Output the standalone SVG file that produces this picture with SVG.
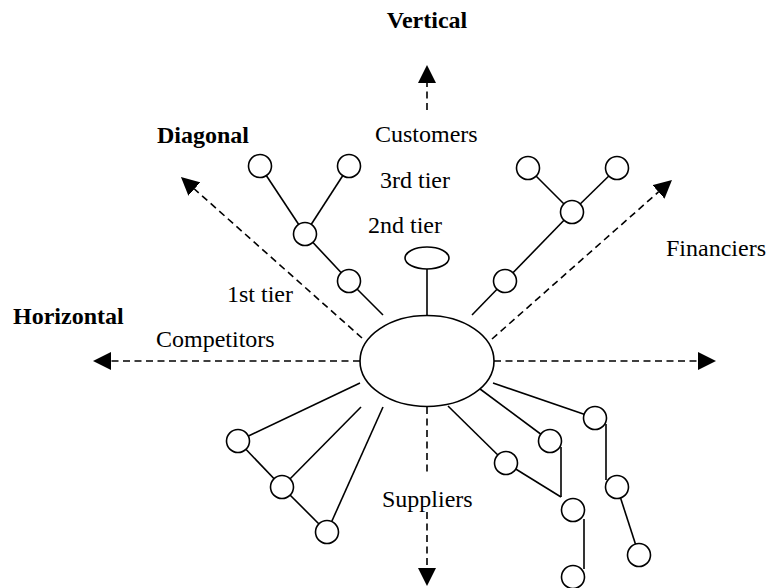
<svg xmlns="http://www.w3.org/2000/svg" width="770" height="588" viewBox="0 0 770 588">
  <style>
    .ln { stroke: #000; stroke-width: 1.6; fill: none; }
    .dash { stroke: #000; stroke-width: 1.6; fill: none; stroke-dasharray: 7 4.5; }
    .node { stroke: #000; stroke-width: 1.6; fill: #fff; }
    .lbl { font-family: "Liberation Serif", "Times New Roman", serif; font-size: 24px; fill: #000; }
    .bold { font-weight: bold; }
  </style>
  <defs>
    <marker id="arrow" markerUnits="userSpaceOnUse" markerWidth="18" markerHeight="18" refX="0" refY="9" orient="auto">
      <path d="M0,0 L18,9 L0,18 z" fill="#000"/>
    </marker>
  </defs>
  <rect width="770" height="588" fill="#fff"/>

  <!-- dashed direction axes -->
  <g id="axes">
    <line class="dash" x1="427" y1="110" x2="427" y2="83" marker-end="url(#arrow)"/>
    <line class="dash" x1="360" y1="361" x2="111" y2="361" marker-end="url(#arrow)"/>
    <line class="dash" x1="494" y1="361" x2="698" y2="361" marker-end="url(#arrow)"/>
    <line class="dash" x1="427" y1="407" x2="427" y2="476"/>
    <line class="dash" x1="427" y1="512" x2="427" y2="568" marker-end="url(#arrow)"/>
    <line class="dash" x1="362" y1="338" x2="194.4" y2="189" marker-end="url(#arrow)"/>
    <line class="dash" x1="492" y1="339" x2="658.5" y2="191.9" marker-end="url(#arrow)"/>
  </g>

  <!-- connectors -->
  <g id="connectors">
    <!-- upper left tree -->
    <line class="ln" x1="383" y1="315" x2="349" y2="281"/>
    <line class="ln" x1="349" y1="281" x2="305" y2="234"/>
    <line class="ln" x1="305" y1="234" x2="260" y2="166"/>
    <line class="ln" x1="305" y1="234" x2="349" y2="166"/>
    <!-- second tier stem -->
    <line class="ln" x1="427" y1="269" x2="427" y2="315"/>
    <!-- upper right tree -->
    <line class="ln" x1="472" y1="315" x2="505" y2="281"/>
    <line class="ln" x1="505" y1="281" x2="572" y2="212"/>
    <line class="ln" x1="572" y1="212" x2="528" y2="168"/>
    <line class="ln" x1="572" y1="212" x2="617" y2="168"/>
    <!-- lower left tree -->
    <line class="ln" x1="360" y1="383" x2="238" y2="441"/>
    <line class="ln" x1="361" y1="407" x2="282" y2="487"/>
    <line class="ln" x1="383" y1="407" x2="327" y2="532"/>
    <line class="ln" x1="238" y1="441" x2="282" y2="487"/>
    <line class="ln" x1="282" y1="487" x2="327" y2="532"/>
    <!-- lower right tree -->
    <line class="ln" x1="448" y1="406" x2="506" y2="463"/>
    <line class="ln" x1="472" y1="383" x2="550" y2="441"/>
    <line class="ln" x1="493" y1="383" x2="595" y2="418"/>
    <line class="ln" x1="506" y1="463" x2="561" y2="497"/>
    <line class="ln" x1="561" y1="447" x2="561" y2="497"/>
    <line class="ln" x1="584" y1="519" x2="584" y2="569"/>
    <line class="ln" x1="606" y1="424" x2="606" y2="480"/>
    <line class="ln" x1="617" y1="487" x2="639" y2="555"/>
  </g>

  <!-- focal firm -->
  <g id="focal">
    <ellipse class="node" cx="427" cy="361" rx="67" ry="45.5"/>
  </g>
  <g id="second-tier">
    <ellipse class="node" cx="427" cy="258" rx="22" ry="11"/>
  </g>

  <!-- partner nodes -->
  <g id="ul-1"><circle class="node" cx="260" cy="166" r="11.5"/></g>
  <g id="ul-2"><circle class="node" cx="349" cy="166" r="11.5"/></g>
  <g id="ul-3"><circle class="node" cx="305" cy="234" r="11.5"/></g>
  <g id="ul-4"><circle class="node" cx="349" cy="281" r="11.5"/></g>
  <g id="ur-1"><circle class="node" cx="528" cy="168" r="11.5"/></g>
  <g id="ur-2"><circle class="node" cx="617" cy="168" r="11.5"/></g>
  <g id="ur-3"><circle class="node" cx="572" cy="212" r="11.5"/></g>
  <g id="ur-4"><circle class="node" cx="505" cy="281" r="11.5"/></g>
  <g id="ll-1"><circle class="node" cx="238" cy="441" r="11.5"/></g>
  <g id="ll-2"><circle class="node" cx="282" cy="487" r="11.5"/></g>
  <g id="ll-3"><circle class="node" cx="327" cy="532" r="11.5"/></g>
  <g id="lr-1"><circle class="node" cx="506" cy="463" r="11.5"/></g>
  <g id="lr-2"><circle class="node" cx="550" cy="441" r="11.5"/></g>
  <g id="lr-3"><circle class="node" cx="595" cy="418" r="11.5"/></g>
  <g id="lr-4"><circle class="node" cx="573" cy="510" r="11.5"/></g>
  <g id="lr-5"><circle class="node" cx="617" cy="487" r="11.5"/></g>
  <g id="lr-6"><circle class="node" cx="573" cy="577" r="11.5"/></g>
  <g id="lr-7"><circle class="node" cx="639" cy="555" r="11.5"/></g>

  <!-- labels -->
  <g id="labels">
    <text class="lbl bold" x="427" y="28" text-anchor="middle">Vertical</text>
    <text class="lbl bold" x="157" y="143">Diagonal</text>
    <text class="lbl bold" x="13" y="324">Horizontal</text>
    <text class="lbl" x="375" y="142">Customers</text>
    <text class="lbl" x="380" y="188">3rd tier</text>
    <text class="lbl" x="368" y="233">2nd tier</text>
    <text class="lbl" x="666" y="256">Financiers</text>
    <text class="lbl" x="227" y="302">1st tier</text>
    <text class="lbl" x="156" y="347">Competitors</text>
    <text class="lbl" x="382" y="507">Suppliers</text>
  </g>
</svg>
